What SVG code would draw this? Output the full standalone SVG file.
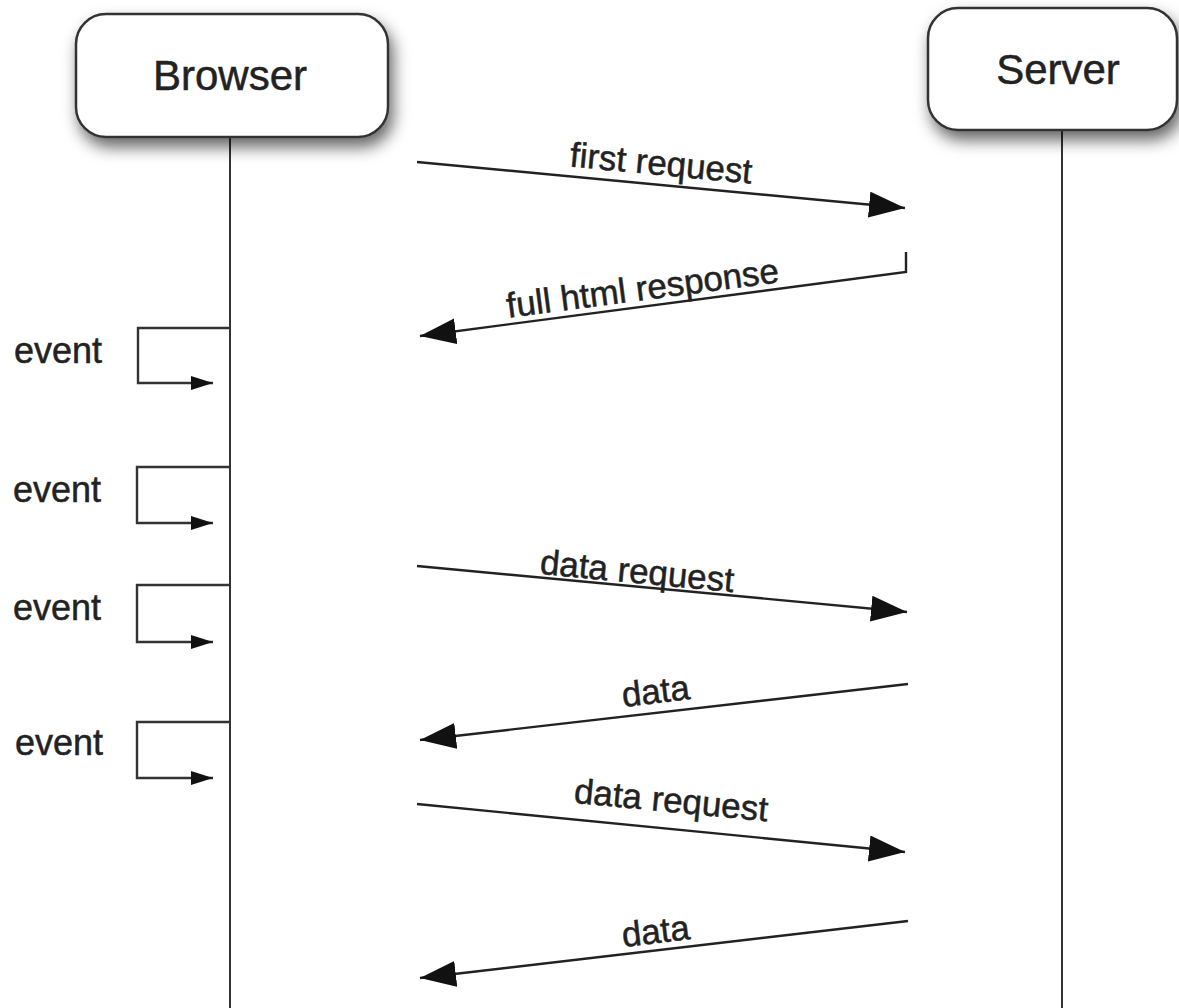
<svg xmlns="http://www.w3.org/2000/svg" width="1179" height="1008" viewBox="0 0 1179 1008">
<defs>
<filter id="sh" x="-20%" y="-20%" width="150%" height="170%">
<feDropShadow dx="4" dy="9" stdDeviation="8" flood-color="#000" flood-opacity="0.6"/>
</filter>
<marker id="ah" markerUnits="userSpaceOnUse" markerWidth="40" markerHeight="30" refX="36" refY="13" orient="auto">
<path d="M0,0 L36,13 L0,26 z" fill="#111"/>
</marker>
<marker id="as" markerUnits="userSpaceOnUse" markerWidth="24" markerHeight="16" refX="22" refY="7" orient="auto">
<path d="M0,0 L22,7 L0,14 z" fill="#111"/>
</marker>
</defs>
<style>
.box{fill:#fff;stroke:#333;stroke-width:2.5;filter:url(#sh)}
.life{stroke:#333;stroke-width:2;fill:none}
.msg{stroke:#222;stroke-width:2.4;fill:none;marker-end:url(#ah)}
.loop{stroke:#333;stroke-width:2.4;fill:none;marker-end:url(#as)}
.t{font-family:"Liberation Sans",Arial,sans-serif;fill:#222;stroke:#222;stroke-width:0.5}
.big{font-size:42px;text-anchor:middle}
.lab{font-size:35px;text-anchor:middle}
.ev{font-size:36px}
</style>
<rect width="1179" height="1008" fill="#fff"/>
<g id="browser">
<line class="life" x1="230" y1="137" x2="230" y2="1008"/>
<rect class="box" x="76" y="14" width="312" height="123" rx="30"/>
<text class="t big" x="230" y="90">Browser</text>
</g>
<g id="server">
<line class="life" x1="1062" y1="130" x2="1062" y2="1008"/>
<rect class="box" x="928" y="8" width="249" height="122" rx="30"/>
<text class="t big" x="1058" y="84">Server</text>
</g>
<g id="connectors">
<line class="msg" x1="417" y1="162" x2="905" y2="208"/>
<text class="t lab" transform="translate(660,175) rotate(5.4)">first request</text>
<polyline class="msg" points="906,252 906,272 420,336"/>
<text class="t lab" transform="translate(644,300) rotate(-7.4)">full html response</text>
<polyline class="loop" points="230,328 138,328 138,383 213,383"/>
<polyline class="loop" points="230,467 137,467 137,523 213,523"/>
<polyline class="loop" points="230,585 137,585 137,642 213,642"/>
<polyline class="loop" points="230,722 137,722 137,778 213,778"/>
<line class="msg" x1="417" y1="566" x2="907" y2="612"/>
<text class="t lab" transform="translate(636,583) rotate(5.4)">data request</text>
<line class="msg" x1="908" y1="684" x2="420" y2="740"/>
<text class="t lab" transform="translate(657,703) rotate(-6.7)">data</text>
<line class="msg" x1="417" y1="804" x2="905" y2="852"/>
<text class="t lab" transform="translate(670,812) rotate(5.5)">data request</text>
<line class="msg" x1="908" y1="921" x2="420" y2="978"/>
<text class="t lab" transform="translate(657,943) rotate(-6.6)">data</text>
</g>
<g id="events">
<text class="t ev" x="14" y="363">event</text>
<text class="t ev" x="13" y="502">event</text>
<text class="t ev" x="13" y="620">event</text>
<text class="t ev" x="15" y="755">event</text>
</g>
</svg>
